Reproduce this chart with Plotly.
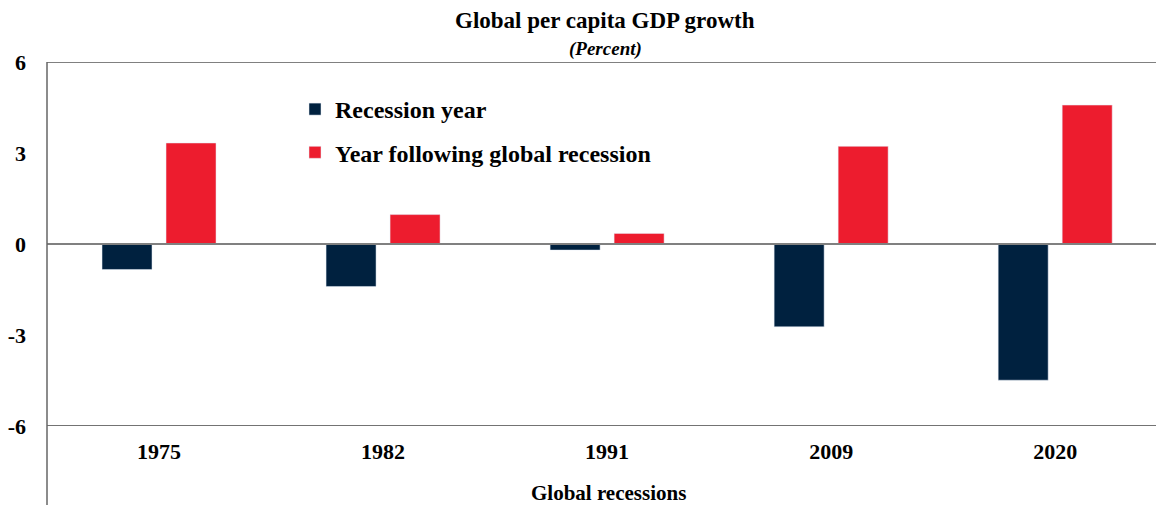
import plotly.graph_objects as go

categories = ["1975", "1982", "1991", "2009", "2020"]
recession_year = [-0.84, -1.40, -0.20, -2.73, -4.49]
year_following = [3.33, 0.97, 0.35, 3.22, 4.58]
y_ticks = [-6, -3, 0, 3, 6]
y_tick_labels = ["-6", "-3", "0", "3", "6"]

FONT = "Liberation Serif"
NAVY = "#00213F"
RED = "#ED1C2E"

fig = go.Figure()
fig.add_trace(go.Bar(x=categories, y=recession_year, name="Recession year",
                     marker_color=NAVY, legendgroup="a"))
fig.add_trace(go.Bar(x=categories, y=year_following, name="Year following global recession",
                     marker_color=RED, legendgroup="b"))

W, H = 1156, 505
L, T, B = 47, 62, 79
plot_h = H - T - B

fig.update_layout(
    width=W, height=H,
    margin=dict(l=L, r=0, t=T, b=B),
    paper_bgcolor="white", plot_bgcolor="white",
    barmode="group", bargap=0.4286, bargroupgap=0.219,
    font=dict(family=FONT, size=22, color="black"),
    showlegend=True,
    legend=dict(x=(295 - L) / (W - L), y=(425 - 86) / plot_h, xanchor="left", yanchor="top",
                font=dict(family=FONT, size=24, color="black", weight="bold"),
                bgcolor="rgba(0,0,0,0)", tracegroupgap=9, traceorder="grouped",
                itemwidth=30),
    xaxis=dict(type="category", range=[-0.5, 4.45], showgrid=False, showline=False,
               zeroline=False, ticks="", ticklabelstandoff=10,
               tickfont=dict(family=FONT, size=22, weight="bold", color="black")),
    yaxis=dict(range=[-6, 6], tickvals=y_ticks, ticktext=y_tick_labels, showgrid=False,
               showline=False, zeroline=False, ticks="", ticklabelstandoff=20,
               tickfont=dict(family=FONT, size=22, weight="bold", color="black")),
)

# axis/frame lines
fig.add_shape(type="line", xref="paper", yref="y", x0=0, x1=1, y0=6, y1=6,
              line=dict(color="#808080", width=2), layer="below")
fig.add_shape(type="line", xref="paper", yref="y", x0=0, x1=1, y0=0, y1=0,
              line=dict(color="#808080", width=2), layer="above")
fig.add_shape(type="line", xref="paper", yref="y", x0=0, x1=1, y0=-6, y1=-6,
              line=dict(color="#444444", width=1.5), layer="above")
fig.add_shape(type="line", xref="paper", yref="paper", x0=0, x1=0, y0=-B / plot_h, y1=1,
              line=dict(color="#666666", width=1.5), layer="above")

fig.add_annotation(text="<b>Global per capita GDP growth</b>", xref="paper", yref="paper",
                   x=(605 - L) / (W - L), y=(425 - 20) / plot_h, yanchor="middle", showarrow=False,
                   font=dict(family=FONT, size=23, color="black"))
fig.add_annotation(text="<b><i>(Percent)</i></b>", xref="paper", yref="paper",
                   x=(605 - L) / (W - L), y=(425 - 48) / plot_h, yanchor="middle", showarrow=False,
                   font=dict(family=FONT, size=19, color="black"))
fig.add_annotation(text="<b>Global recessions</b>", xref="paper", yref="paper",
                   x=(608 - L) / (W - L), y=(425 - 492) / plot_h, yanchor="middle",
                   showarrow=False, font=dict(family=FONT, size=21, color="black"))

fig.write_html("out.html", config={"displayModeBar": False},
               post_script="document.body.style.margin='0';document.body.style.overflow='hidden';")
